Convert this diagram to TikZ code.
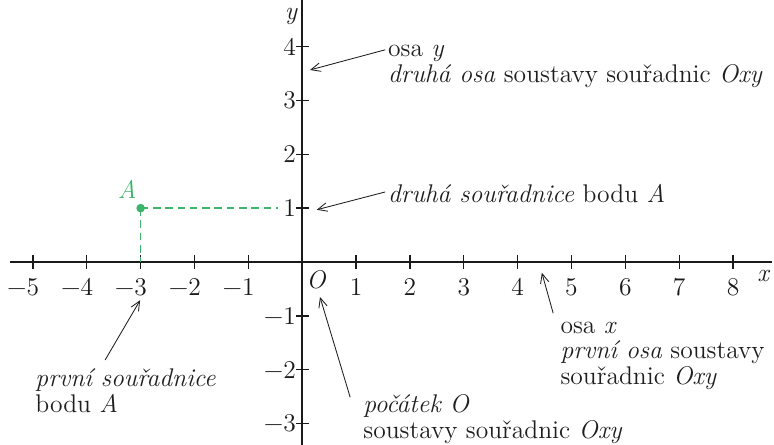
\documentclass[tikz,border=0pt]{standalone}
\usepackage{fontspec}
\usetikzlibrary{arrows.meta}
\definecolor{pointGreen}{HTML}{3DB46A}
\definecolor{axisBlack}{HTML}{1A1A1A}
\definecolor{noteBlack}{HTML}{1E1E1E}
\tikzset{
  axisline/.style={draw=axisBlack, line width=0.8pt},
  tickmark/.style={draw=axisBlack, line width=0.7pt},
  ticklabel/.style={font=\fontsize{13.5}{14}\selectfont, text=axisBlack, inner sep=0pt},
  axislabel/.style={font=\fontsize{13.5}{14}\selectfont\itshape, text=axisBlack, inner sep=0pt},
  note/.style={font=\fontsize{13.5}{13.5}\selectfont, text=noteBlack, align=left, inner sep=0pt, anchor=west},
  pointer/.style={-{Straight Barb[length=5pt, width=4.5pt]}, line width=0.45pt, draw=noteBlack},
  guide/.style={draw=pointGreen, dash pattern=on 4pt off 2.5pt, line width=0.7pt},
  gridpoint/.style={circle, fill=pointGreen, inner sep=0pt, minimum size=0.16cm},
}

\begin{document}
\begin{tikzpicture}

  \useasboundingbox (-5.612,-3.398) rectangle (8.761,4.865);

  % === Axes ===
  \coordinate (xstart) at (-5.43,0);
  \coordinate (xend) at (8.72,0);
  \coordinate (ystart) at (0,-3.40);
  \coordinate (yend) at (0,4.86);
  \draw[axisline] (xstart) -- (xend);
  \draw[axisline] (ystart) -- (yend);
  \node[axislabel] (xname) at (8.56,-0.26) {x};
  \node[axislabel] (yname) at (-0.21,4.55) {y};
  \node[axislabel] (origin) at (0.255,-0.33) {O};

  % === Ticks on x ===
  \foreach \i in {1,...,8} {
    \draw[tickmark] (\i,-0.13) -- (\i,0.13);
    \node[ticklabel, anchor=north] (xp\i) at (\i,-0.30) {\i};
  }
  \foreach \i in {1,...,5} {
    \draw[tickmark] (-\i,-0.13) -- (-\i,0.13);
    \node[ticklabel, anchor=north] (xm\i) at (-\i,-0.30) {\llap{−}\i};
  }

  % === Ticks on y ===
  \foreach \j in {1,...,4} {
    \draw[tickmark] (-0.11,\j) -- (0.13,\j);
    \node[ticklabel, anchor=east] (yp\j) at (-0.11,\j) {\j};
  }
  \foreach \j in {1,...,3} {
    \draw[tickmark] (-0.11,-\j) -- (0.13,-\j);
    \node[ticklabel, anchor=east] (ym\j) at (-0.11,-\j) {−\j};
  }

  % === Point A ===
  \node[gridpoint] (A) at (-3,1) {};
  \node[axislabel, text=pointGreen] (Aname) at (-3.25,1.34) {A};
  \coordinate (Ay) at (-0.45,1);
  \coordinate (Ax) at (-3,0);
  \draw[guide] (A.center) -- (Ay);
  \draw[guide] (A.center) -- (Ax);

  % === Notes ===
  \node[note] (osaY) at (1.59,3.63) {osa \textit{y}\\\textit{druhá osa} soustavy souřadnic \textit{Oxy}};
  \node[note] (druhaSour) at (1.59,1.28) {\textit{druhá souřadnice} bodu \textit{A}};
  \node[note] (osaX) at (4.79,-1.736) {osa \textit{x}\\\textit{první osa} soustavy\\souřadnic \textit{Oxy}};
  \node[note] (pocatek) at (1.13,-2.92) {\textit{počátek O}\\soustavy souřadnic \textit{Oxy}};
  \node[note] (prvniSour) at (-4.96,-2.39) {\textit{první souřadnice}\\bodu \textit{A}};

  % arrow ends
  \coordinate (osaYtail) at (1.54,3.94);
  \coordinate (osaYtip) at (0.145,3.566);
  \coordinate (druhaTail) at (1.54,1.30);
  \coordinate (druhaTip) at (0.27,0.97);
  \coordinate (osaXtail) at (4.66,-0.95);
  \coordinate (osaXtip) at (4.45,-0.20);
  \coordinate (pocatekTail) at (0.89,-2.51);
  \coordinate (pocatekTip) at (0.33,-0.65);
  \coordinate (prvniTail) at (-3.66,-1.82);
  \coordinate (prvniTip) at (-3.01,-0.71);

  % === Pointers ===
  \draw[pointer] (osaYtail) -- (osaYtip);
  \draw[pointer] (druhaTail) -- (druhaTip);
  \draw[pointer] (osaXtail) -- (osaXtip);
  \draw[pointer] (pocatekTail) -- (pocatekTip);
  \draw[pointer] (prvniTail) -- (prvniTip);

\end{tikzpicture}
\end{document}
